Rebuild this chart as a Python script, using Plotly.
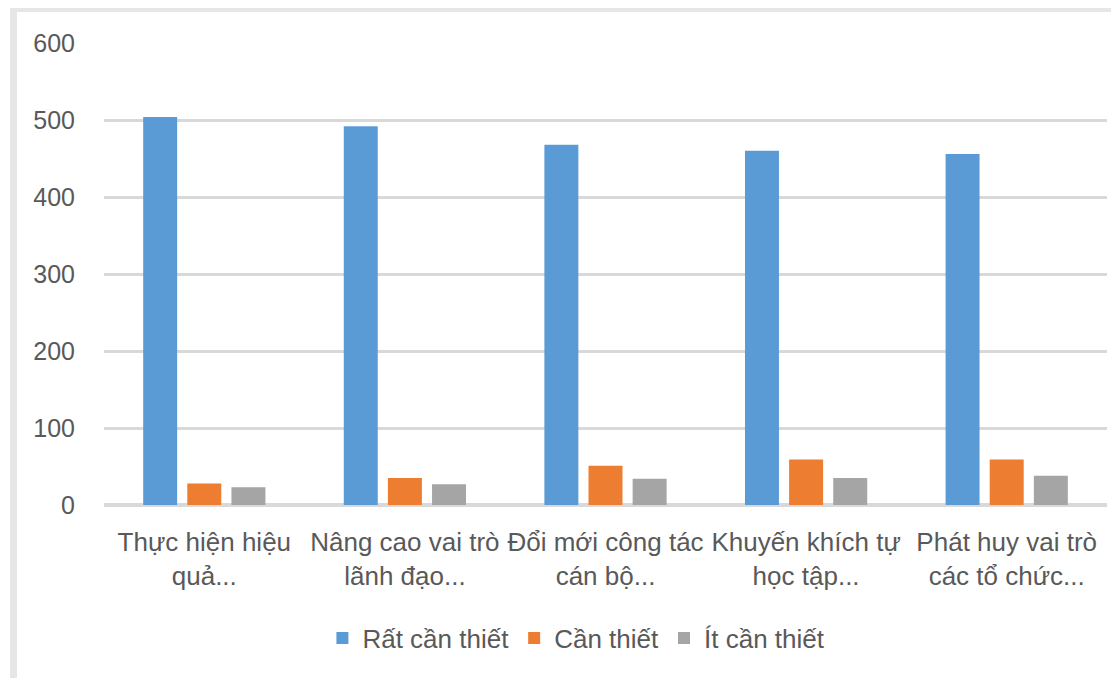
import plotly.graph_objects as go

categories = ["Thực hiện hiệu<br>quả...", "Nâng cao vai trò<br>lãnh đạo...", "Đổi mới công tác<br>cán bộ...",
              "Khuyến khích tự<br>học tập...", "Phát huy vai trò<br>các tổ chức..."]
series_names = ["Rất cần thiết", "Cần thiết", "Ít cần thiết"]
rat_can_thiet = [504, 492, 468, 460, 456]
can_thiet = [28, 35, 51, 59, 59]
it_can_thiet = [23, 27, 34, 35, 38]
colors = ["#5B9BD5", "#ED7D31", "#A5A5A5"]
y_ticks = [0, 100, 200, 300, 400, 500, 600]

FONT = "Liberation Sans, Arial, sans-serif"

fig = go.Figure()
for name, vals, c in zip(series_names, [rat_can_thiet, can_thiet, it_can_thiet], colors):
    fig.add_trace(go.Bar(x=categories, y=vals, name=name, marker=dict(color=c, line=dict(width=0))))

# page body has an 8px margin, so target screen coordinates are shifted by -8
OFF = 8
W, H = 1119, 678
L, R, T, B = 104 - OFF, 12 + OFF, 43 - OFF, 173 + OFF
pw, ph = W - L - R, H - T - B

def px(x):
    return (x - OFF - L) / pw

def py(y):
    return (H - B - (y - OFF)) / ph

fig.update_layout(
    width=W, height=H,
    margin=dict(l=L, r=R, t=T, b=B),
    paper_bgcolor="white", plot_bgcolor="white",
    barmode="group", bargap=0.34, bargroupgap=0.23,
    font=dict(family=FONT, color="#595959", size=26),
    showlegend=True,
    legend=dict(orientation="h", x=0.471, xanchor="center", y=py(638), yanchor="middle",
                font=dict(size=26, color="#595959"), itemwidth=30, traceorder="normal"),
    xaxis=dict(showgrid=False, showline=False, zeroline=False, ticks="",
               tickfont=dict(size=26, color="#595959"), ticklabelstandoff=19),
    yaxis=dict(range=[0, 600], tickvals=y_ticks, showgrid=True, gridcolor="#D9D9D9", gridwidth=3,
               zeroline=True, zerolinecolor="#D9D9D9", zerolinewidth=4, showline=False,
               ticks="", tickfont=dict(size=25, color="#595959"), ticklabelstandoff=28),
    shapes=[
        dict(type="line", xref="paper", yref="paper", x0=px(10), x1=px(1130), y0=py(9), y1=py(9),
             line=dict(color="#E6E6E6", width=6)),
        dict(type="line", xref="paper", yref="paper", x0=px(13.5), x1=px(13.5), y0=py(6), y1=py(690),
             line=dict(color="#E6E6E6", width=7)),
    ],
)

fig.write_html("out.html")
